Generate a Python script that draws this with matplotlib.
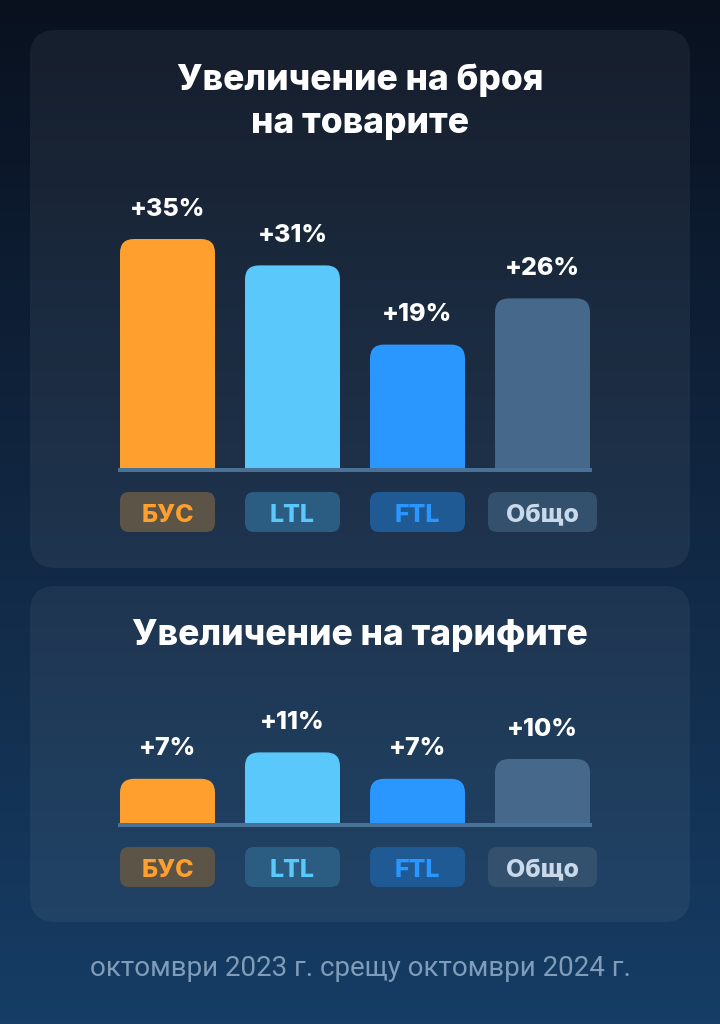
import numpy as np
import matplotlib
matplotlib.use("Agg")
import matplotlib.pyplot as plt
from matplotlib.patches import FancyBboxPatch
from matplotlib.colors import LinearSegmentedColormap

# ---------------- data ----------------
categories = ["БУС", "LTL", "FTL", "Общо"]
volume_growth = [35, 31, 19, 26]
tariff_growth = [7, 11, 7, 10]
title_volume = "Увеличение на броя\nна товарите"
title_tariff = "Увеличение на тарифите"
footer_text = "октомври 2023 г. срещу октомври 2024 г."

# ---------------- styles ----------------
bar_colors = ["#ff9f2e", "#5ac8fa", "#2997ff", "#46698b"]
label_text_colors = ["#ff9f2e", "#5ac8fa", "#2997ff", "#c9d9ea"]
label_box_colors = ["#5b5447", "#2b5d82", "#1f5a95", "#33506d"]
baseline_color = "#4a7296"
FONT_BOLD = ["Inter", "DejaVu Sans"]
FONT_REG = ["Roboto", "DejaVu Sans"]

W, H = 720, 1024
fig = plt.figure(figsize=(W / 100, H / 100), dpi=100)

# background overlay axes in pixel coordinates
bg = fig.add_axes([0, 0, 1, 1])
bg.set_xlim(0, W)
bg.set_ylim(H, 0)
bg.axis("off")
cmap = LinearSegmentedColormap.from_list("bg", ["#09111f", "#112742", "#163d65"])
grad = np.linspace(0, 1, 256).reshape(-1, 1)
bg.imshow(grad, cmap=cmap, extent=[0, W, H, 0], aspect="auto", zorder=0)

for (x0, y0, w, h) in [(30, 30, 660, 538), (30, 586, 660, 336)]:
    bg.add_patch(FancyBboxPatch((x0, y0), w, h,
                                boxstyle="round,pad=0,rounding_size=26",
                                facecolor="white", alpha=0.055, edgecolor="none", zorder=1))

for k, line in enumerate(title_volume.split("\n")):
    bg.text(W / 2, 80 + 43 * k, line, ha="center", va="center", color="white",
            fontsize=25.5, fontweight=800, family=FONT_BOLD, zorder=3)
bg.text(W / 2, 636, title_tariff, ha="center", va="center", color="white",
        fontsize=25.5, fontweight=800, family=FONT_BOLD, zorder=3)
bg.text(W / 2, 968, footer_text, ha="center", va="center", color="#7f9cba",
        fontsize=20, family=FONT_REG, zorder=3)

BAR_W = 0.76
PX_PER_PCT = 6.6
RADIUS_PX = 14


def draw_chart(values, baseline_y, ymax, label_top):
    left_px, width_px = 120, 470
    height_px = ymax * PX_PER_PCT
    ax = fig.add_axes([left_px / W, (H - baseline_y) / H, width_px / W, height_px / H])
    ax.set_xlim(-BAR_W / 2, len(values) - 1 + BAR_W / 2)
    ax.set_ylim(0, ymax)
    ax.axis("off")
    ax.patch.set_alpha(0)
    px_x = width_px / (len(values) - 1 + BAR_W)
    px_y = height_px / ymax
    aspect = px_x / px_y
    r = RADIUS_PX / px_x
    ry = r * aspect
    xs = np.arange(len(values))
    for i, v in zip(xs, values):
        ax.add_patch(FancyBboxPatch((i - BAR_W / 2, -ry), BAR_W, v + ry,
                                    boxstyle=f"round,pad=0,rounding_size={r}",
                                    mutation_aspect=aspect,
                                    facecolor=bar_colors[i], edgecolor="none", zorder=2))
        ax.annotate(f"+{v}%", (i, v), xytext=(0, 30 * 72 / 100), textcoords="offset points",
                    ha="center", va="center", color="white", fontsize=18,
                    fontweight=800, family=FONT_BOLD, zorder=4)
    ax.axhline(0, color=baseline_color, linewidth=4 * 72 / 100, zorder=3, clip_on=False)

    renderer = fig.canvas.get_renderer()
    for i, cat in enumerate(categories):
        cx = ax.transData.transform((i, 0))[0]
        t = bg.text(cx, label_top + 21, cat, ha="center", va="center_baseline",
                    color=label_text_colors[i], fontsize=18, fontweight=800,
                    family=FONT_BOLD, zorder=5)
        tw = t.get_window_extent(renderer).width
        bw = max(95, tw + 36)
        bg.add_patch(FancyBboxPatch((cx - bw / 2, label_top), bw, 40,
                                    boxstyle="round,pad=0,rounding_size=9",
                                    facecolor=label_box_colors[i], edgecolor="none", zorder=4))
    return ax


draw_chart(volume_growth, 470, 40, 492)
draw_chart(tariff_growth, 825, 14, 847)

fig.savefig("out.png", dpi=100)
